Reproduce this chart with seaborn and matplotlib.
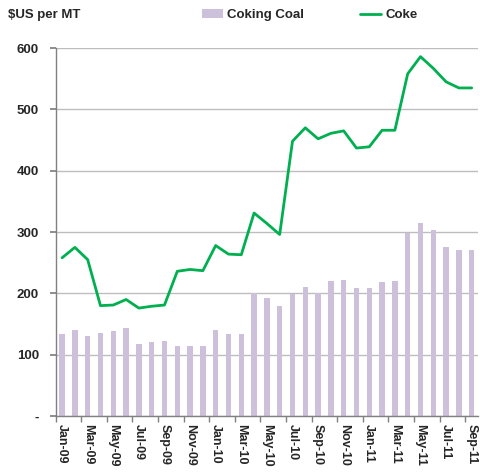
import numpy as np
import pandas as pd
import matplotlib
matplotlib.use("Agg")
import matplotlib.pyplot as plt
import seaborn as sns

months = ["Jan-09", "Feb-09", "Mar-09", "Apr-09", "May-09", "Jun-09", "Jul-09", "Aug-09",
          "Sep-09", "Oct-09", "Nov-09", "Dec-09", "Jan-10", "Feb-10", "Mar-10", "Apr-10",
          "May-10", "Jun-10", "Jul-10", "Aug-10", "Sep-10", "Oct-10", "Nov-10", "Dec-10",
          "Jan-11", "Feb-11", "Mar-11", "Apr-11", "May-11", "Jun-11", "Jul-11", "Aug-11", "Sep-11"]
coking_coal = [133, 141, 131, 136, 138, 143, 117, 120, 122, 114, 115, 115, 141, 134, 133, 201,
               192, 180, 199, 210, 200, 220, 221, 208, 208, 218, 220, 298, 314, 303, 275, 270, 270]
coke = [258, 275, 255, 180, 181, 190, 176, 179, 181, 236, 239, 237, 278, 264, 263, 331,
        314, 296, 448, 470, 452, 461, 465, 437, 439, 466, 466, 558, 586, 567, 545, 535, 535]
ytick_vals = [0, 100, 200, 300, 400, 500, 600]
ytick_labels = ["-", "100", "200", "300", "400", "500", "600"]

sns.set_theme(style="white")
plt.rcParams["font.family"] = ["Liberation Sans", "DejaVu Sans"]
plt.rcParams["font.weight"] = "bold"

df = pd.DataFrame({"month": months, "coal": coking_coal, "coke": coke,
                   "idx": np.arange(len(months))})

fig = plt.figure(figsize=(4.8, 4.76), dpi=100)
ax = fig.add_axes([0.116, 0.126, 0.880, 0.773])

sns.barplot(data=df, x="month", y="coal", color="#CCC0DA", saturation=1, width=0.42,
            ax=ax, label="Coking Coal", linewidth=0)
for p in ax.patches:
    p.set_zorder(2)
sns.lineplot(data=df, x="idx", y="coke", color="#00B050", linewidth=2.0, ax=ax,
             label="Coke", legend=False)
for ln in ax.lines:
    ln.set_zorder(3)

ax.set_xlim(-0.5, len(months) - 0.5)
ax.set_ylim(0, 600)
ax.set_yticks(ytick_vals)
ax.set_yticklabels(ytick_labels, fontsize=9.5, fontweight="bold")
ax.set_xticks(np.arange(0, len(months), 2))
ax.set_xticklabels(months[::2], rotation=270, fontsize=9, fontweight="bold")
ax.set_xticks(np.arange(-0.5, len(months) - 1, 2), minor=True)
ax.tick_params(axis="x", which="major", length=0, pad=6)
ax.tick_params(axis="x", which="minor", length=4, color="#808080", direction="out", bottom=True)
ax.tick_params(axis="y", length=4, color="#808080", direction="out", left=True, pad=8)
ax.set_xlabel("")
ax.set_ylabel("")
ax.yaxis.grid(True, color="#BDBDBD", linewidth=1)
ax.set_axisbelow(True)
for s in ["top", "right"]:
    ax.spines[s].set_visible(False)
for s in ["left", "bottom"]:
    ax.spines[s].set_color("#808080")
    ax.spines[s].set_linewidth(1)
    ax.spines[s].set_zorder(4)

handles, labels = ax.get_legend_handles_labels()
if ax.get_legend() is not None:
    ax.get_legend().remove()
order = [labels.index("Coking Coal"), labels.index("Coke")]
handles = [handles[i] for i in order]
labels = [labels[i] for i in order]
fig.legend(handles, labels, loc="center", bbox_to_anchor=(0.645, 0.968), ncol=2,
           frameon=False, prop={"size": 9.5, "weight": "bold"}, handlelength=1.6,
           handletextpad=0.3, columnspacing=4.3)
fig.text(0.017, 0.968, "$US per MT", fontsize=9.5, fontweight="bold", va="center", ha="left")

fig.savefig("out.png", dpi=100)
